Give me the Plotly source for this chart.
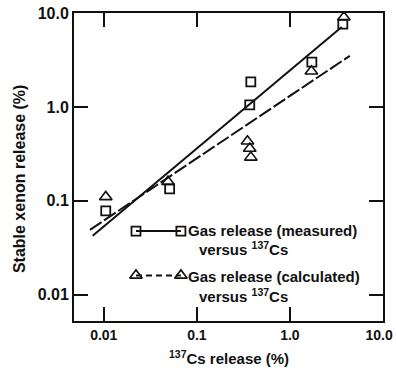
import plotly.graph_objects as go

# Data (percent)
meas_x = [0.0105, 0.051, 0.37, 0.38, 1.72, 3.7]
meas_y = [0.078, 0.134, 1.05, 1.85, 3.0, 7.6]
calc_x = [0.0105, 0.049, 0.35, 0.37, 0.38, 1.7, 3.8]
calc_y = [0.11, 0.16, 0.43, 0.36, 0.29, 2.4, 9.0]
fit_meas_x = [0.0076, 3.6]
fit_meas_y = [0.0425, 7.1]
fit_calc_x = [0.0071, 4.4]
fit_calc_y = [0.049, 3.5]
x_ticks = [0.01, 0.1, 1, 10]
x_labels = ["0.01", "0.1", "1.0", "10.0"]
y_ticks = [0.01, 0.1, 1, 10]
y_labels = ["0.01", "0.1", "1.0", "10.0"]

FONT = "Liberation Sans, Arial, sans-serif"
BLK = "#111"

fig = go.Figure()
fig.add_trace(go.Scatter(x=fit_meas_x, y=fit_meas_y, mode="lines",
                         line=dict(color=BLK, width=2), showlegend=False))
fig.add_trace(go.Scatter(x=fit_calc_x, y=fit_calc_y, mode="lines",
                         line=dict(color=BLK, width=2, dash="14px,3px"), showlegend=False))
fig.add_trace(go.Scatter(x=meas_x, y=meas_y, mode="markers",
                         marker=dict(symbol="square-open", size=9, color=BLK,
                                     line=dict(width=1.8, color=BLK)), showlegend=False))
fig.add_trace(go.Scatter(x=calc_x, y=calc_y, mode="markers",
                         marker=dict(symbol="triangle-up-open", size=11, color=BLK,
                                     line=dict(width=1.6, color=BLK)), showlegend=False))

# Legend glyphs on an overlay axis (0..1 paper-like)
leg_x = [0.2006, 0.346]
fig.add_trace(go.Scatter(x=leg_x, y=[0.292, 0.292], xaxis="x2", yaxis="y2", mode="lines+markers",
                         line=dict(color=BLK, width=2),
                         marker=dict(symbol="square-open", size=9, color=BLK, line=dict(width=1.8, color=BLK)),
                         showlegend=False))
fig.add_trace(go.Scatter(x=leg_x, y=[0.148, 0.148], xaxis="x2", yaxis="y2", mode="lines+markers",
                         line=dict(color=BLK, width=2, dash="6px,4px"),
                         marker=dict(symbol="triangle-up-open", size=11, color=BLK, line=dict(width=1.6, color=BLK)),
                         showlegend=False))

ann_font = dict(family=FONT, size=15, color=BLK)
annotations = [
    dict(x=0.364, y=0.295, xref="paper", yref="paper", text="<b>Gas release (measured)</b>",
         showarrow=False, xanchor="left", yanchor="middle", font=ann_font),
    dict(x=0.399, y=0.237, xref="paper", yref="paper", text="<b>versus <sup>137</sup>Cs</b>",
         showarrow=False, xanchor="left", yanchor="middle", font=ann_font),
    dict(x=0.364, y=0.146, xref="paper", yref="paper", text="<b>Gas release (calculated)</b>",
         showarrow=False, xanchor="left", yanchor="middle", font=ann_font),
    dict(x=0.399, y=0.084, xref="paper", yref="paper", text="<b>versus <sup>137</sup>Cs</b>",
         showarrow=False, xanchor="left", yanchor="middle", font=ann_font),
    dict(x=0.5, y=-0.117, xref="paper", yref="paper", text="<b><sup>137</sup>Cs release (%)</b>",
         showarrow=False, xanchor="center", yanchor="middle", font=dict(family=FONT, size=15, color=BLK)),
    dict(x=-0.178, y=0.464, xref="paper", yref="paper", text="<b>Stable xenon release (%)</b>",
         textangle=-90, showarrow=False, xanchor="center", yanchor="middle",
         font=dict(family=FONT, size=16, color=BLK)),
]

axis_common = dict(type="log", showgrid=False, zeroline=False, showline=True, linecolor=BLK,
                   linewidth=2, mirror="allticks", ticks="inside", ticklen=14, tickwidth=1.5,
                   tickcolor=BLK, automargin=False, ticklabeloverflow="allow")

# the last x label sits at the right edge of the page; pad it so it stays inside
x_text = ["<b>%s</b>" % t for t in x_labels]
x_text[-1] = "<b>%s</b>&nbsp;&nbsp;" % x_labels[-1]

fig.update_layout(
    width=396, height=371,
    margin=dict(l=74, r=13, t=13, b=50),
    paper_bgcolor="white", plot_bgcolor="white",
    showlegend=False,
    xaxis=dict(range=[-2.32, 1.0], tickvals=x_ticks, ticktext=x_text,
               tickfont=dict(family=FONT, size=14, color=BLK), **axis_common),
    yaxis=dict(range=[-2.28, 1.0], tickvals=y_ticks, ticktext=["<b>%s</b>" % t for t in y_labels],
               tickfont=dict(family=FONT, size=16, color=BLK), **axis_common),
    xaxis2=dict(range=[0, 1], overlaying="x", visible=False, anchor="y2"),
    yaxis2=dict(range=[0, 1], overlaying="y", visible=False, anchor="x2"),
    annotations=annotations,
)

fig.write_html("out.html")
